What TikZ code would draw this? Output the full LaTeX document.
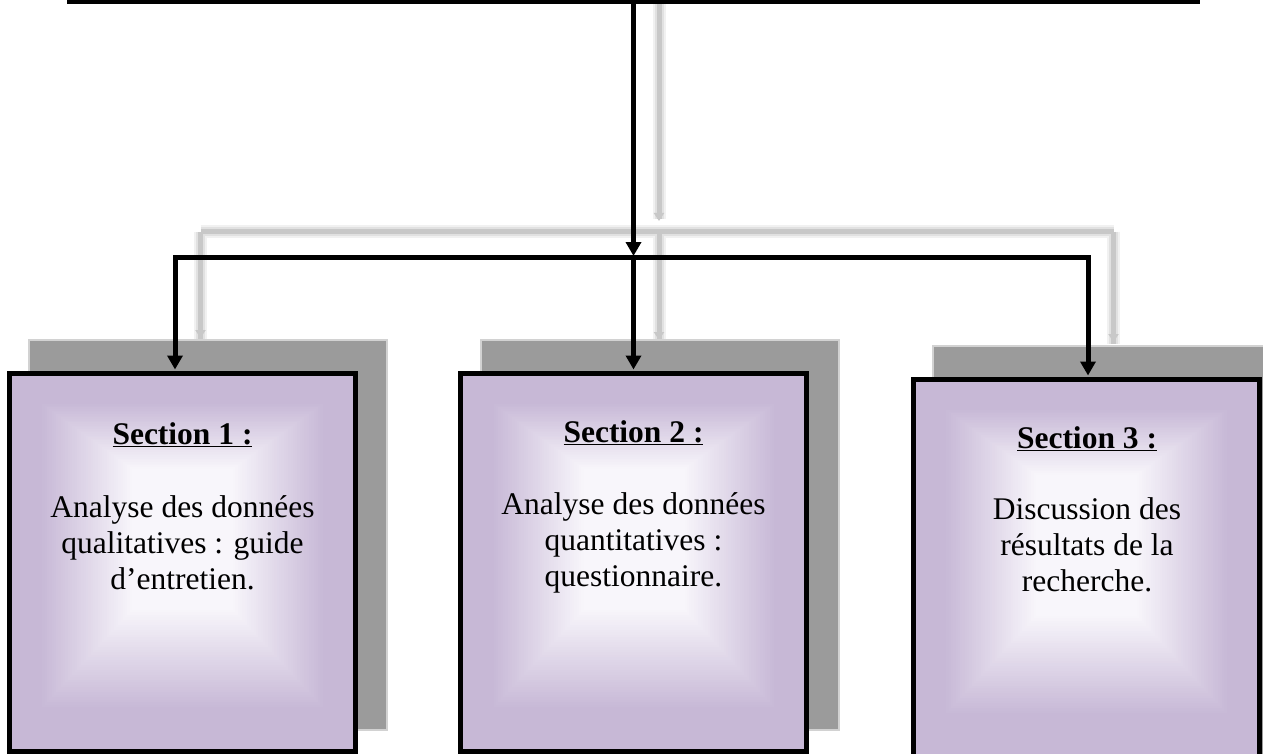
\documentclass[tikz,border=0pt]{standalone}
\usepackage{fontspec}
\setmainfont{Liberation Serif}
\usetikzlibrary{arrows.meta,calc}

\definecolor{lav}{RGB}{199,184,214}
\definecolor{core}{RGB}{248,246,251}
\definecolor{boxshade}{RGB}{155,155,155}
\definecolor{linkshade}{RGB}{200,200,200}

\pgfdeclarelayer{bg}
\pgfsetlayers{bg,main}

% soft rectangular (path-like) gradient inside a section box, relative to its top
\newcommand{\pillowfill}[1]{%
  \begin{scope}[shift={(#1.north)}]
    \foreach \gi in {0,...,40}{
      \pgfmathsetmacro{\gt}{\gi/40}
      \pgfmathsetmacro{\gxa}{-142+92*\gt}
      \pgfmathsetmacro{\gya}{31.5+66*\gt}
      \pgfmathsetmacro{\gxb}{143-92*\gt}
      \pgfmathsetmacro{\gyb}{338.5-100*\gt}
      \pgfmathsetmacro{\gpc}{100-100*\gt}
      \fill[lav!\gpc!core] (\gxa,\gya) rectangle (\gxb,\gyb);
    }
  \end{scope}}

% grey offset shadow behind a section box
\newcommand{\boxshadow}[1]{%
  \fill[boxshade!45] ($(#1.north west)+(21.5,-32.5)$) rectangle ($(#1.south east)+(30.5,-23.5)$);
  \fill[boxshade] ($(#1.north west)+(23.5,-30.5)$) rectangle ($(#1.south east)+(28.5,-25.5)$);}

\begin{document}
\begin{tikzpicture}[x=1pt,y=-1pt,
  frame/.style={draw=black, line width=5pt, fill=lav, inner sep=0pt},
  sectionbox/.style={frame, minimum width=346pt, minimum height=378pt},
  conn/.style={draw=black, line width=5pt},
  tip/.style={-{Triangle[length=14pt,width=15pt]}, shorten >=1.5pt},
  ghost/.style={draw=linkshade, line width=5pt},
  ghosthalo/.style={draw=linkshade!55, line width=9pt},
  ghostouter/.style={draw=linkshade!25, line width=13pt},
  ghosttip/.style={-{Triangle[length=8pt,width=10pt]}},
  label/.style={inner sep=0pt, anchor=base, font=\fontsize{31.5pt}{36pt}\selectfont}]

\useasboundingbox (0,0) rectangle (1263,754);
\clip (0,0) rectangle (1263,754);

% top box, only its lower edge lies inside the page
\node[frame, minimum width=1128pt, minimum height=200pt, anchor=south] (top) at (633.5,4) {};

% section boxes
\node[sectionbox] (b1) at (182,562.5) {};
\node[sectionbox] (b2) at (633.5,562.5) {};
\node[sectionbox, minimum height=400pt] (b3) at (1086,579.5) {};

\pillowfill{b1}
\pillowfill{b2}
\pillowfill{b3}

% section texts
\node[label] (t1) at ($(b1.north)+(0.5,73.5)$) {\begin{tabular}[t]{@{}c@{}}\underline{\textbf{Section 1 :}}\\[37pt]Analyse des données\\qualitatives : guide\\d’entretien.\end{tabular}};
\node[label] (t2) at ($(b2.north)+(0,71.5)$) {\begin{tabular}[t]{@{}c@{}}\underline{\textbf{Section 2 :}}\\[36pt]Analyse des données\\quantitatives :\\questionnaire.\end{tabular}};
\node[label] (t3) at ($(b3.north)+(1,71.5)$) {\begin{tabular}[t]{@{}c@{}}\underline{\textbf{Section 3 :}}\\[35pt]Discussion des\\résultats de la\\recherche.\end{tabular}};

% connectors
\coordinate (j) at (633.5,257.5);
\coordinate (h1) at (175,257.5);
\coordinate (h3) at (1088,257.5);
\draw[conn, tip] (top.south) -- (j);
\draw[conn, tip] (j) -- (h1) -- (h1 |- b1.north);
\draw[conn, tip] (j) -- (h3) -- (h3 |- b3.north);
\draw[conn, tip] (j) -- (j |- b2.north);

% faint offset copies of the connectors and the box shadows
\begin{pgfonlayer}{bg}
  \coordinate (gj) at (659,231.5);
  \coordinate (gh1) at (200.5,231.5);
  \coordinate (gh3) at (1113.5,231.5);
  \foreach \gs in {ghostouter,ghosthalo,ghost}{
    \draw[\gs] (659,-30) -- (659,219);
    \draw[\gs] (gh1) -- (gh3);
    \draw[\gs] (gh1) -- (200.5,344);
    \draw[\gs] (gj) -- (659,344);
    \draw[\gs] (gh3) -- (1113.5,344);
  }
  \draw[ghost, ghosttip] (659,200) -- (659,221);
  \draw[ghost, ghosttip] (200.5,320) -- (200.5,338);
  \draw[ghost, ghosttip] (659,320) -- (659,340);
  \draw[ghost, ghosttip] (1113.5,320) -- (1113.5,342);
  \boxshadow{b1}
  \boxshadow{b2}
  \boxshadow{b3}
\end{pgfonlayer}
\end{tikzpicture}
\end{document}
